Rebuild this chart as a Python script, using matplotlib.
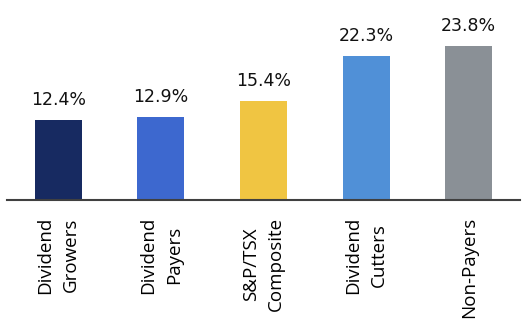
import matplotlib.pyplot as plt

categories = ['Dividend\nGrowers', 'Dividend\nPayers', 'S&P/TSX\nComposite',
              'Dividend\nCutters', 'Non-Payers']
values = [12.4, 12.9, 15.4, 22.3, 23.8]
colors = ['#172a61', '#3d68cf', '#f0c542', '#5090d7', '#8a9096']

fig = plt.figure(figsize=(5.28, 3.31), dpi=100)
ax = fig.add_axes([7 / 528, 131 / 331, 513 / 528, 200 / 331])

x = list(range(len(values)))
bars = ax.bar(x, values, width=0.46, color=colors)
for b, v in zip(bars, values):
    ax.annotate('{:.1f}%'.format(v), (b.get_x() + b.get_width() / 2, v),
                xytext=(0, 8), textcoords='offset points',
                ha='center', va='bottom', fontsize=12.5, color='#111111',
                family='DejaVu Sans')

ax.set_xlim(-0.5, 4.5)
ax.set_ylim(0, 31)
ax.set_yticks([])
ax.set_xticks(x)
ax.set_xticklabels(categories, rotation=90, ha='center', va='top',
                   multialignment='center', fontsize=13.5,
                   family='Open Sans', linespacing=1.55)
ax.tick_params(axis='x', length=0, pad=12)
for s in ['top', 'left', 'right']:
    ax.spines[s].set_visible(False)
ax.spines['bottom'].set_color('#404040')
ax.spines['bottom'].set_linewidth(1.5)

fig.savefig('out.png', dpi=100)
